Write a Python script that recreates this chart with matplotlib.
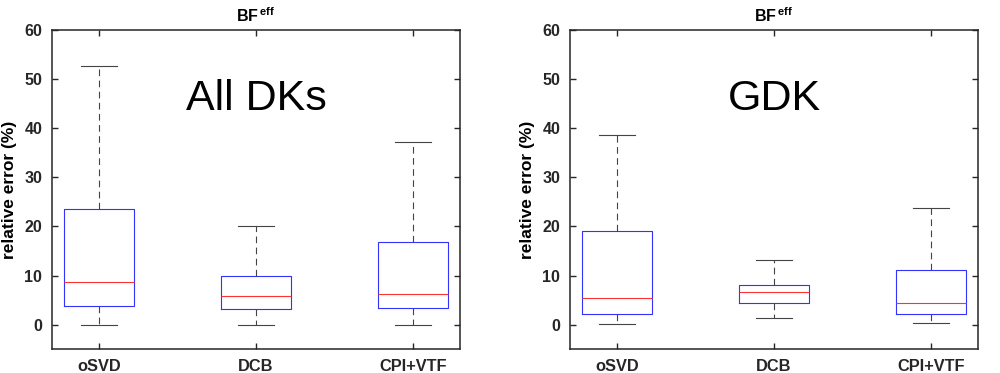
#!/usr/bin/env python

import matplotlib
matplotlib.use('Agg')
import matplotlib.pyplot as plt

plt.rcParams['font.family'] = ['Liberation Sans', 'DejaVu Sans']
plt.rcParams['mathtext.fontset'] = 'custom'
plt.rcParams['mathtext.rm'] = 'Liberation Sans'
plt.rcParams['mathtext.bf'] = 'Liberation Sans:bold'

methods = ['oSVD', 'DCB', 'CPI+VTF']
panel_names = ['All DKs', 'GDK']

# (lower whisker, Q1, median, Q3, upper whisker) per method
all_dks_low = [0.0, 0.0, 0.0]
all_dks_q1 = [3.8, 3.1, 3.3]
all_dks_med = [8.6, 5.9, 6.3]
all_dks_q3 = [23.6, 9.9, 16.9]
all_dks_high = [52.7, 20.1, 37.3]

gdk_low = [0.1, 1.3, 0.4]
gdk_q1 = [2.2, 4.4, 2.2]
gdk_med = [5.4, 6.7, 4.5]
gdk_q3 = [19.0, 8.0, 11.2]
gdk_high = [38.6, 13.2, 23.8]


def make_stats(low, q1, med, q3, high):
    stats = []
    for i in range(len(methods)):
        stats.append({'whislo': low[i], 'q1': q1[i], 'med': med[i],
                      'q3': q3[i], 'whishi': high[i], 'fliers': [],
                      'label': methods[i]})
    return stats


def draw_panel(ax, stats, name):
    ax.bxp(stats, positions=[1, 2, 3], widths=0.45, showfliers=False,
           boxprops=dict(color='#3333ff', linewidth=0.8),
           medianprops=dict(color='#ff3333', linewidth=0.8),
           whiskerprops=dict(color='#444444', linewidth=0.8, linestyle=(0, (6, 4))),
           capprops=dict(color='#444444', linewidth=0.8))
    ax.set_xlim(0.7, 3.3)
    ax.set_ylim(-5, 60)
    ax.set_yticks(range(0, 61, 10))
    ax.set_xticks([1, 2, 3])
    ax.set_xticklabels(methods, fontweight='bold', fontsize=11.8)
    for lbl in ax.get_yticklabels():
        lbl.set_fontweight('bold')
        lbl.set_fontsize(11.5)
    ax.tick_params(direction='in', top=True, right=True, length=4, width=1,
                   colors='#262626', pad=7)
    for sp in ax.spines.values():
        sp.set_linewidth(1.1)
        sp.set_color('#262626')
    ax.set_ylabel('relative error (%)', fontweight='bold', fontsize=12.5,
                  labelpad=5)
    ax.set_title(r'$\mathbf{BF}^{\,\mathbf{eff}}$', fontsize=11.5, pad=6)
    ax.text(2, 46.0, name, ha='center', va='center', fontsize=31)


fig = plt.figure(figsize=(10, 3.73), dpi=100)
ax1 = fig.add_axes([0.052, 0.064, 0.408, 0.855])
ax2 = fig.add_axes([0.570, 0.064, 0.408, 0.855])

draw_panel(ax1, make_stats(all_dks_low, all_dks_q1, all_dks_med, all_dks_q3, all_dks_high), panel_names[0])
draw_panel(ax2, make_stats(gdk_low, gdk_q1, gdk_med, gdk_q3, gdk_high), panel_names[1])

fig.savefig('out.png', dpi=100)
